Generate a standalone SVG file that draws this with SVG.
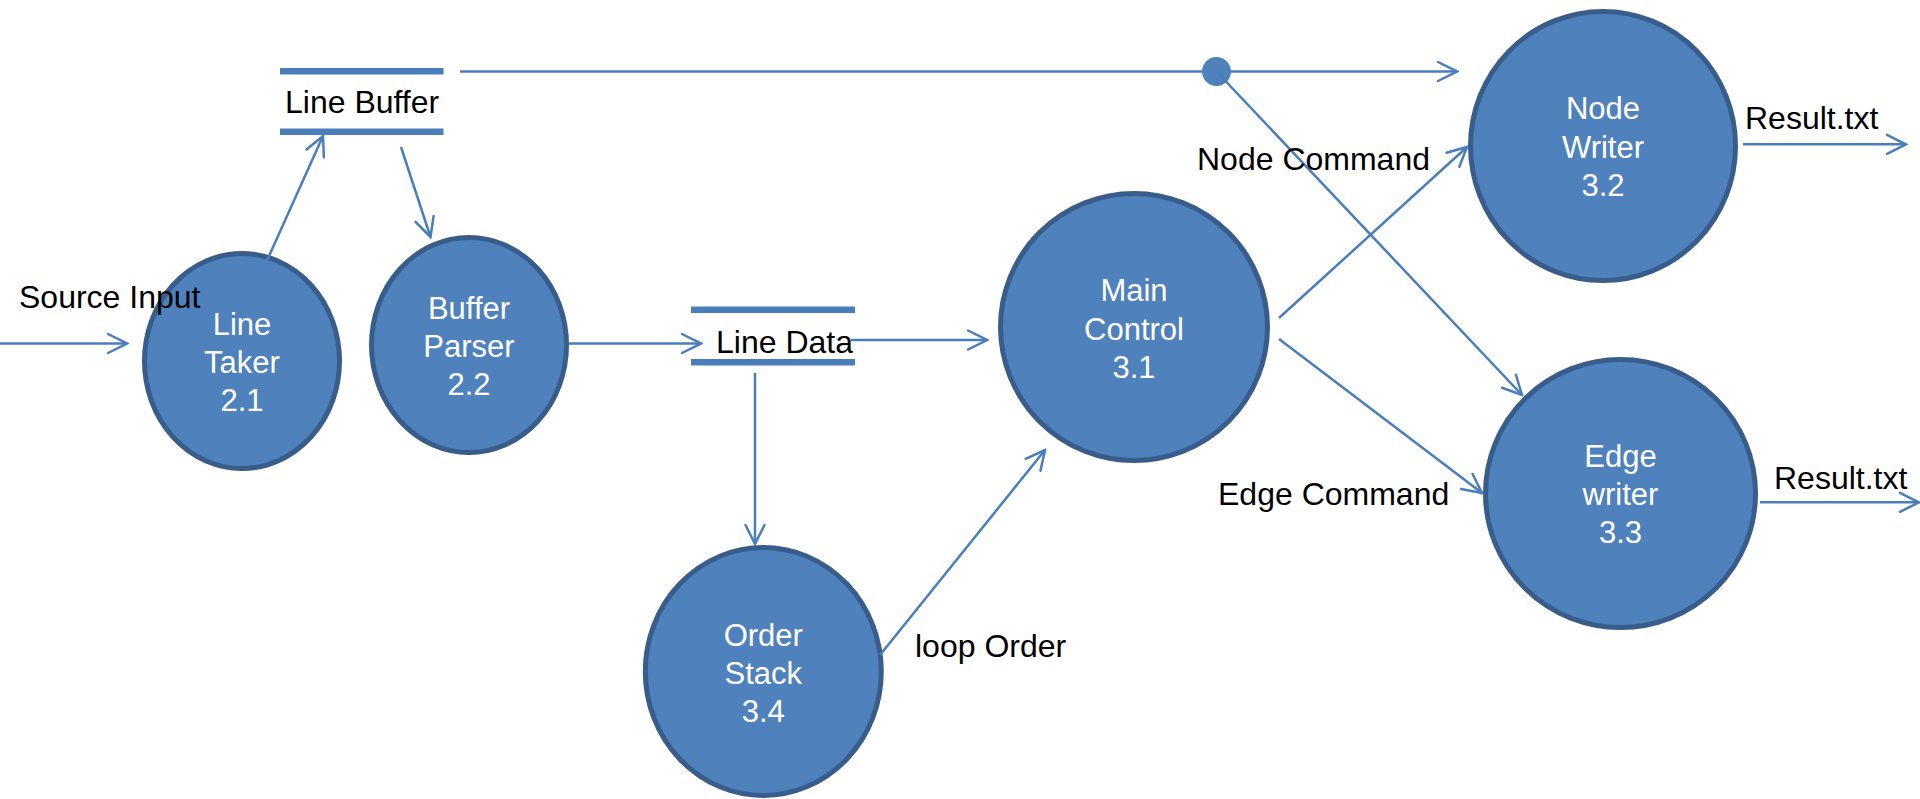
<svg xmlns="http://www.w3.org/2000/svg" width="1920" height="799" viewBox="0 0 1920 799">
  <defs>
    <style>
      .proc { fill: #4f81bd; stroke: #385d8a; stroke-width: 5; }
      .ptxt { fill: #ffffff; font-family: "Liberation Sans", Arial, sans-serif; font-size: 31px; text-anchor: middle; }
      .lbl { fill: #000000; font-family: "Liberation Sans", Arial, sans-serif; font-size: 32px; }
      .bar { fill: #4a7ebb; }
      .flow { stroke: #4a7ebb; stroke-width: 2.5; fill: none; marker-end: url(#arr); }
      .plain { stroke: #4a7ebb; stroke-width: 2.5; fill: none; }
    </style>
    <marker id="arr" markerUnits="userSpaceOnUse" viewBox="-22 -12 24 24" refX="0" refY="0" markerWidth="24" markerHeight="24" orient="auto">
      <path d="M-19,-9.5 L0,0 L-19,9.5" fill="none" stroke="#4a7ebb" stroke-width="2.5" stroke-linecap="round" stroke-linejoin="miter"/>
    </marker>
  </defs>
  <rect x="0" y="0" width="1920" height="799" fill="#ffffff"/>

  <!-- Data stores -->
  <g id="line-buffer">
    <rect class="bar" x="280" y="68" width="163.5" height="6.5"/>
    <rect class="bar" x="280" y="128.5" width="163.5" height="6.5"/>
    <text class="lbl" x="285" y="113">Line Buffer</text>
  </g>
  <g id="line-data">
    <rect class="bar" x="691" y="306.5" width="164" height="6.5"/>
    <rect class="bar" x="691" y="359" width="164" height="6.5"/>
    <text class="lbl" x="716" y="352.5">Line Data</text>
  </g>

  <!-- Processes -->
  <g id="line-taker">
    <ellipse class="proc" cx="242" cy="361" rx="97.5" ry="107.5"/>
    <text class="ptxt" x="242" y="335">Line</text>
    <text class="ptxt" x="242" y="373">Taker</text>
    <text class="ptxt" x="242" y="410.5">2.1</text>
  </g>
  <g id="buffer-parser">
    <ellipse class="proc" cx="469" cy="345" rx="97.5" ry="107.5"/>
    <text class="ptxt" x="469" y="318.5">Buffer</text>
    <text class="ptxt" x="469" y="357">Parser</text>
    <text class="ptxt" x="469" y="395">2.2</text>
  </g>
  <g id="main-control">
    <ellipse class="proc" cx="1134" cy="327" rx="133.5" ry="133.5"/>
    <text class="ptxt" x="1134" y="300.5">Main</text>
    <text class="ptxt" x="1134" y="340">Control</text>
    <text class="ptxt" x="1134" y="378">3.1</text>
  </g>
  <g id="node-writer">
    <ellipse class="proc" cx="1603" cy="146" rx="132.5" ry="134.5"/>
    <text class="ptxt" x="1603" y="119">Node</text>
    <text class="ptxt" x="1603" y="157.5">Writer</text>
    <text class="ptxt" x="1603" y="196">3.2</text>
  </g>
  <g id="edge-writer">
    <ellipse class="proc" cx="1620.5" cy="493.5" rx="135" ry="134"/>
    <text class="ptxt" x="1620.5" y="466.5">Edge</text>
    <text class="ptxt" x="1620.5" y="505">writer</text>
    <text class="ptxt" x="1620.5" y="543">3.3</text>
  </g>
  <g id="order-stack">
    <ellipse class="proc" cx="763.3" cy="671.5" rx="118" ry="124"/>
    <text class="ptxt" x="763.3" y="646">Order</text>
    <text class="ptxt" x="763.3" y="684">Stack</text>
    <text class="ptxt" x="763.3" y="722">3.4</text>
  </g>

  <!-- Connectors -->
  <g id="connectors">
    <line class="flow" x1="0" y1="343.5" x2="127" y2="343.5"/>
    <line class="flow" x1="265" y1="265" x2="323" y2="136"/>
    <line class="flow" x1="401" y1="147" x2="430.5" y2="237"/>
    <line class="flow" x1="569" y1="343.5" x2="701" y2="343.5"/>
    <line class="flow" x1="851" y1="340" x2="987" y2="340"/>
    <line class="flow" x1="755" y1="373" x2="755" y2="544"/>
    <line class="flow" x1="880" y1="655" x2="1045" y2="450"/>
    <line class="flow" x1="460" y1="71.5" x2="1457" y2="71.5"/>
    <circle id="junction" cx="1216.5" cy="71.5" r="14.5" fill="#4f81bd"/>
    <line class="flow" x1="1216.5" y1="71.5" x2="1522" y2="395"/>
    <line class="flow" x1="1279" y1="318" x2="1467" y2="147"/>
    <line class="flow" x1="1279" y1="339" x2="1482" y2="493"/>
    <line class="flow" x1="1743" y1="144.3" x2="1906" y2="144.3"/>
    <line class="flow" x1="1760" y1="502.3" x2="1919" y2="502.3"/>
  </g>

  <!-- Flow labels -->
  <g id="labels">
    <text class="lbl" x="19" y="308">Source Input</text>
    <text class="lbl" x="915" y="656.5">loop Order</text>
    <text class="lbl" x="1197" y="169.5">Node Command</text>
    <text class="lbl" x="1218" y="505">Edge Command</text>
    <text class="lbl" x="1745" y="129">Result.txt</text>
    <text class="lbl" x="1774" y="489">Result.txt</text>
  </g>
</svg>
